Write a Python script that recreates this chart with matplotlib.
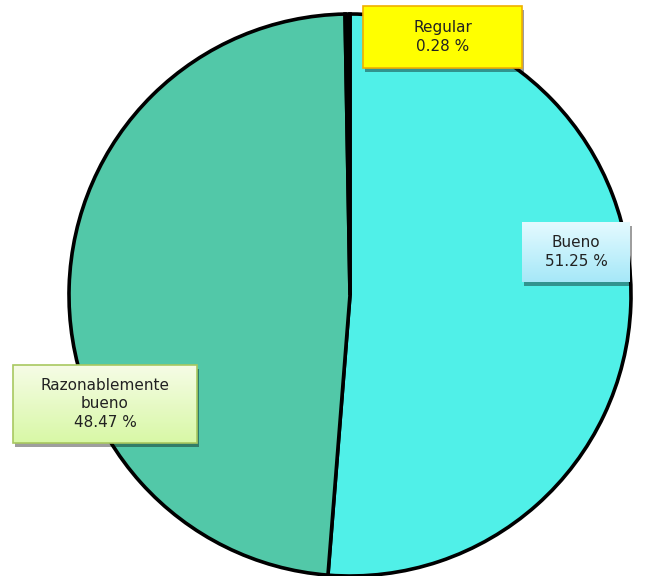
import matplotlib
matplotlib.use("Agg")
import matplotlib.pyplot as plt
import numpy as np
from matplotlib.patches import Rectangle

categories = ["Bueno", "Razonablemente\nbueno", "Regular"]
values = [51.25, 48.47, 0.28]
colors = ["#50F0E8", "#52C8A8", "#000000"]

W, H = 654, 576
fig = plt.figure(figsize=(W / 100, H / 100), dpi=100)
ax = fig.add_axes([0, 0, 1, 1])

cx, cy, r = 350, H - 295, 281
ax.pie(values, colors=colors, startangle=90, counterclock=False,
       center=(cx, cy), radius=r,
       wedgeprops=dict(edgecolor="black", linewidth=2.6), frame=True)
ax.set_xlim(0, W)
ax.set_ylim(0, H)
ax.set_aspect("equal")
ax.axis("off")

def gradient_box(x0, ytop, w, h, top, bottom, border, text):
    y0 = H - ytop - h
    ax.add_patch(Rectangle((x0 + 2, y0 - 4), w, h, facecolor="black",
                           alpha=0.38, edgecolor="none", zorder=5))
    c1 = np.array(matplotlib.colors.to_rgb(top))
    c2 = np.array(matplotlib.colors.to_rgb(bottom))
    t = np.linspace(0, 1, 64)[:, None]
    grad = (c1 * (1 - t) + c2 * t)[:, None, :]
    ax.imshow(grad, extent=(x0, x0 + w, y0, y0 + h), origin="upper",
              aspect="auto", zorder=6, interpolation="bilinear")
    if border:
        ax.add_patch(Rectangle((x0, y0), w, h, facecolor="none",
                               edgecolor=border, linewidth=1.2, zorder=7))
    ax.text(x0 + w / 2, y0 + h / 2, text, ha="center", va="center",
            fontsize=11, color="#222222", zorder=8, linespacing=1.3,
            family="DejaVu Sans")

gradient_box(363, 6, 159, 62, "#FFFF00", "#FFFF00", "#F0B000",
             f"Regular\n{values[2]:.2f} %")
gradient_box(522, 222, 108, 60, "#E4FAFF", "#A6E8F8", None,
             f"Bueno\n{values[0]:.2f} %")
gradient_box(13, 365, 184, 78, "#F6FCE6", "#D8F8A6", "#A8C860",
             f"Razonablemente\nbueno\n{values[1]:.2f} %")

ax.set_xlim(0, W)
ax.set_ylim(0, H)
fig.savefig("out.png", dpi=100)
